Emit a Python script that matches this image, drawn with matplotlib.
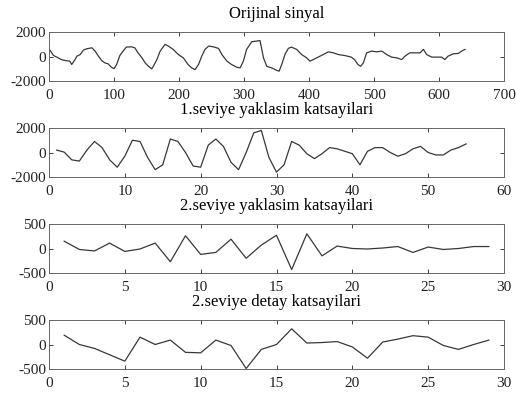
import matplotlib
matplotlib.use('Agg')
import matplotlib.pyplot as plt

# Orijinal sinyal
orig_x = [0, 1.5, 7, 12, 19, 25, 32, 35, 40, 43, 48, 53, 58, 66, 71, 76, 81, 86, 91, 96,
          100, 104, 109, 114, 119, 127, 132, 137, 143, 148, 153, 158, 160.5, 166, 171,
          178.5, 183.6, 191, 199, 206.7, 214, 219.5, 224.6, 230, 235, 240, 245.6, 253,
          260.8, 266, 273.8, 281, 289, 294, 299, 304, 312, 319.5, 324.6, 330, 335, 342.6,
          350, 354, 358, 363, 368.2, 373, 381, 388.7, 396.4, 401.5, 406.7, 414, 422,
          429.7, 437.4, 445, 455, 465, 470, 475.4, 479.5, 483.6, 488.7, 496.4, 504, 512,
          519.5, 527, 535, 542.6, 547.7, 555, 563, 570.8, 576, 581, 588.7, 596.4, 604,
          609, 614, 622, 629.7, 634.8, 640]
orig_y = [550, 520, 80, -50, -250, -330, -380, -650, -250, 30, 160, 520, 630, 710, 440, 30,
          -330, -520, -600, -880, -990, -660, 80, 440, 770, 790, 710, 300, -110, -520, -800,
          -1010, -800, -250, 440, 990, 850, 580, 160, -110, -660, -930, -1070, -660, 30,
          580, 850, 790, 660, 160, -380, -660, -880, -930, -380, 580, 1210, 1260, 1300,
          -110, -800, -930, -1120, -1200, -660, 160, 660, 770, 580, 160, -110, -380, -250,
          -50, 160, 380, 300, 160, 80, -50, -250, -660, -800, -520, 300, 440, 380, 440,
          160, -50, -110, -250, 30, 300, 300, 300, 580, 160, -50, -50, -50, -250, 30, 220,
          250, 440, 580]

# 1.seviye yaklasim katsayilari
a1 = [200, 30, -600, -700, 200, 900, 400, -600, -1200, -300, 1000, 900, -400, -1400,
      -1000, 1100, 900, 0, -1100, -1200, 600, 1100, 500, -800, -1400, 0, 1600, 1800,
      -400, -1600, -1000, 900, 600, -100, -500, -100, 400, 300, 100, -100, -1000, 100,
      400, 400, 0, -300, -100, 300, 500, 0, -200, -200, 200, 400, 700]

# 2.seviye yaklasim katsayilari
a2 = [150, -20, -50, 110, -60, -10, 110, -270, 260, -120, -80, 190, -200, 70, 270,
      -430, 300, -150, 50, 0, -10, 10, 40, -80, 30, -20, 0, 40, 40]

# 2.seviye detay katsayilari
d2 = [190, 0, -80, -210, -340, 150, 0, 90, -160, -170, 90, -20, -490, -100, 0, 320,
      30, 40, 60, -50, -280, 50, 110, 180, 150, -20, -100, 0, 90]

titles = ['Orijinal sinyal', '1.seviye yaklasim katsayilari',
          '2.seviye yaklasim katsayilari', '2.seviye detay katsayilari']

plt.rcParams['font.family'] = 'Liberation Serif'
plt.rcParams['font.size'] = 11
plt.rcParams['axes.unicode_minus'] = False

fig = plt.figure(figsize=(5.16, 3.94), dpi=100)

series = [(orig_x, orig_y, 700, 2000, [0, 100, 200, 300, 400, 500, 600, 700]),
          (list(range(1, len(a1) + 1)), a1, 60, 2000, [0, 10, 20, 30, 40, 50, 60]),
          (list(range(1, len(a2) + 1)), a2, 30, 500, [0, 5, 10, 15, 20, 25, 30]),
          (list(range(1, len(d2) + 1)), d2, 30, 500, [0, 5, 10, 15, 20, 25, 30])]
bottoms = [81, 177, 273, 369]

for (x, y, xmax, ylim, xt), b, t in zip(series, bottoms, titles):
    ax = fig.add_axes([49 / 516, 1 - b / 394, 455 / 516, 49 / 394])
    ax.plot(x, y, color='#383838', linewidth=0.9)
    ax.set_xlim(0, xmax)
    ax.set_ylim(-ylim, ylim)
    ax.set_xticks(xt)
    ax.set_yticks([-ylim, 0, ylim])
    ax.tick_params(direction='in', top=True, right=True, length=3, width=0.6,
                   colors='#222222')
    ax.tick_params(axis='x', pad=6)
    ax.tick_params(axis='y', pad=2)
    for s in ax.spines.values():
        s.set_linewidth(0.7)
        s.set_color('#666666')
    ax.set_title(t, fontsize=12, pad=10)

fig.savefig('out.png', dpi=100)
